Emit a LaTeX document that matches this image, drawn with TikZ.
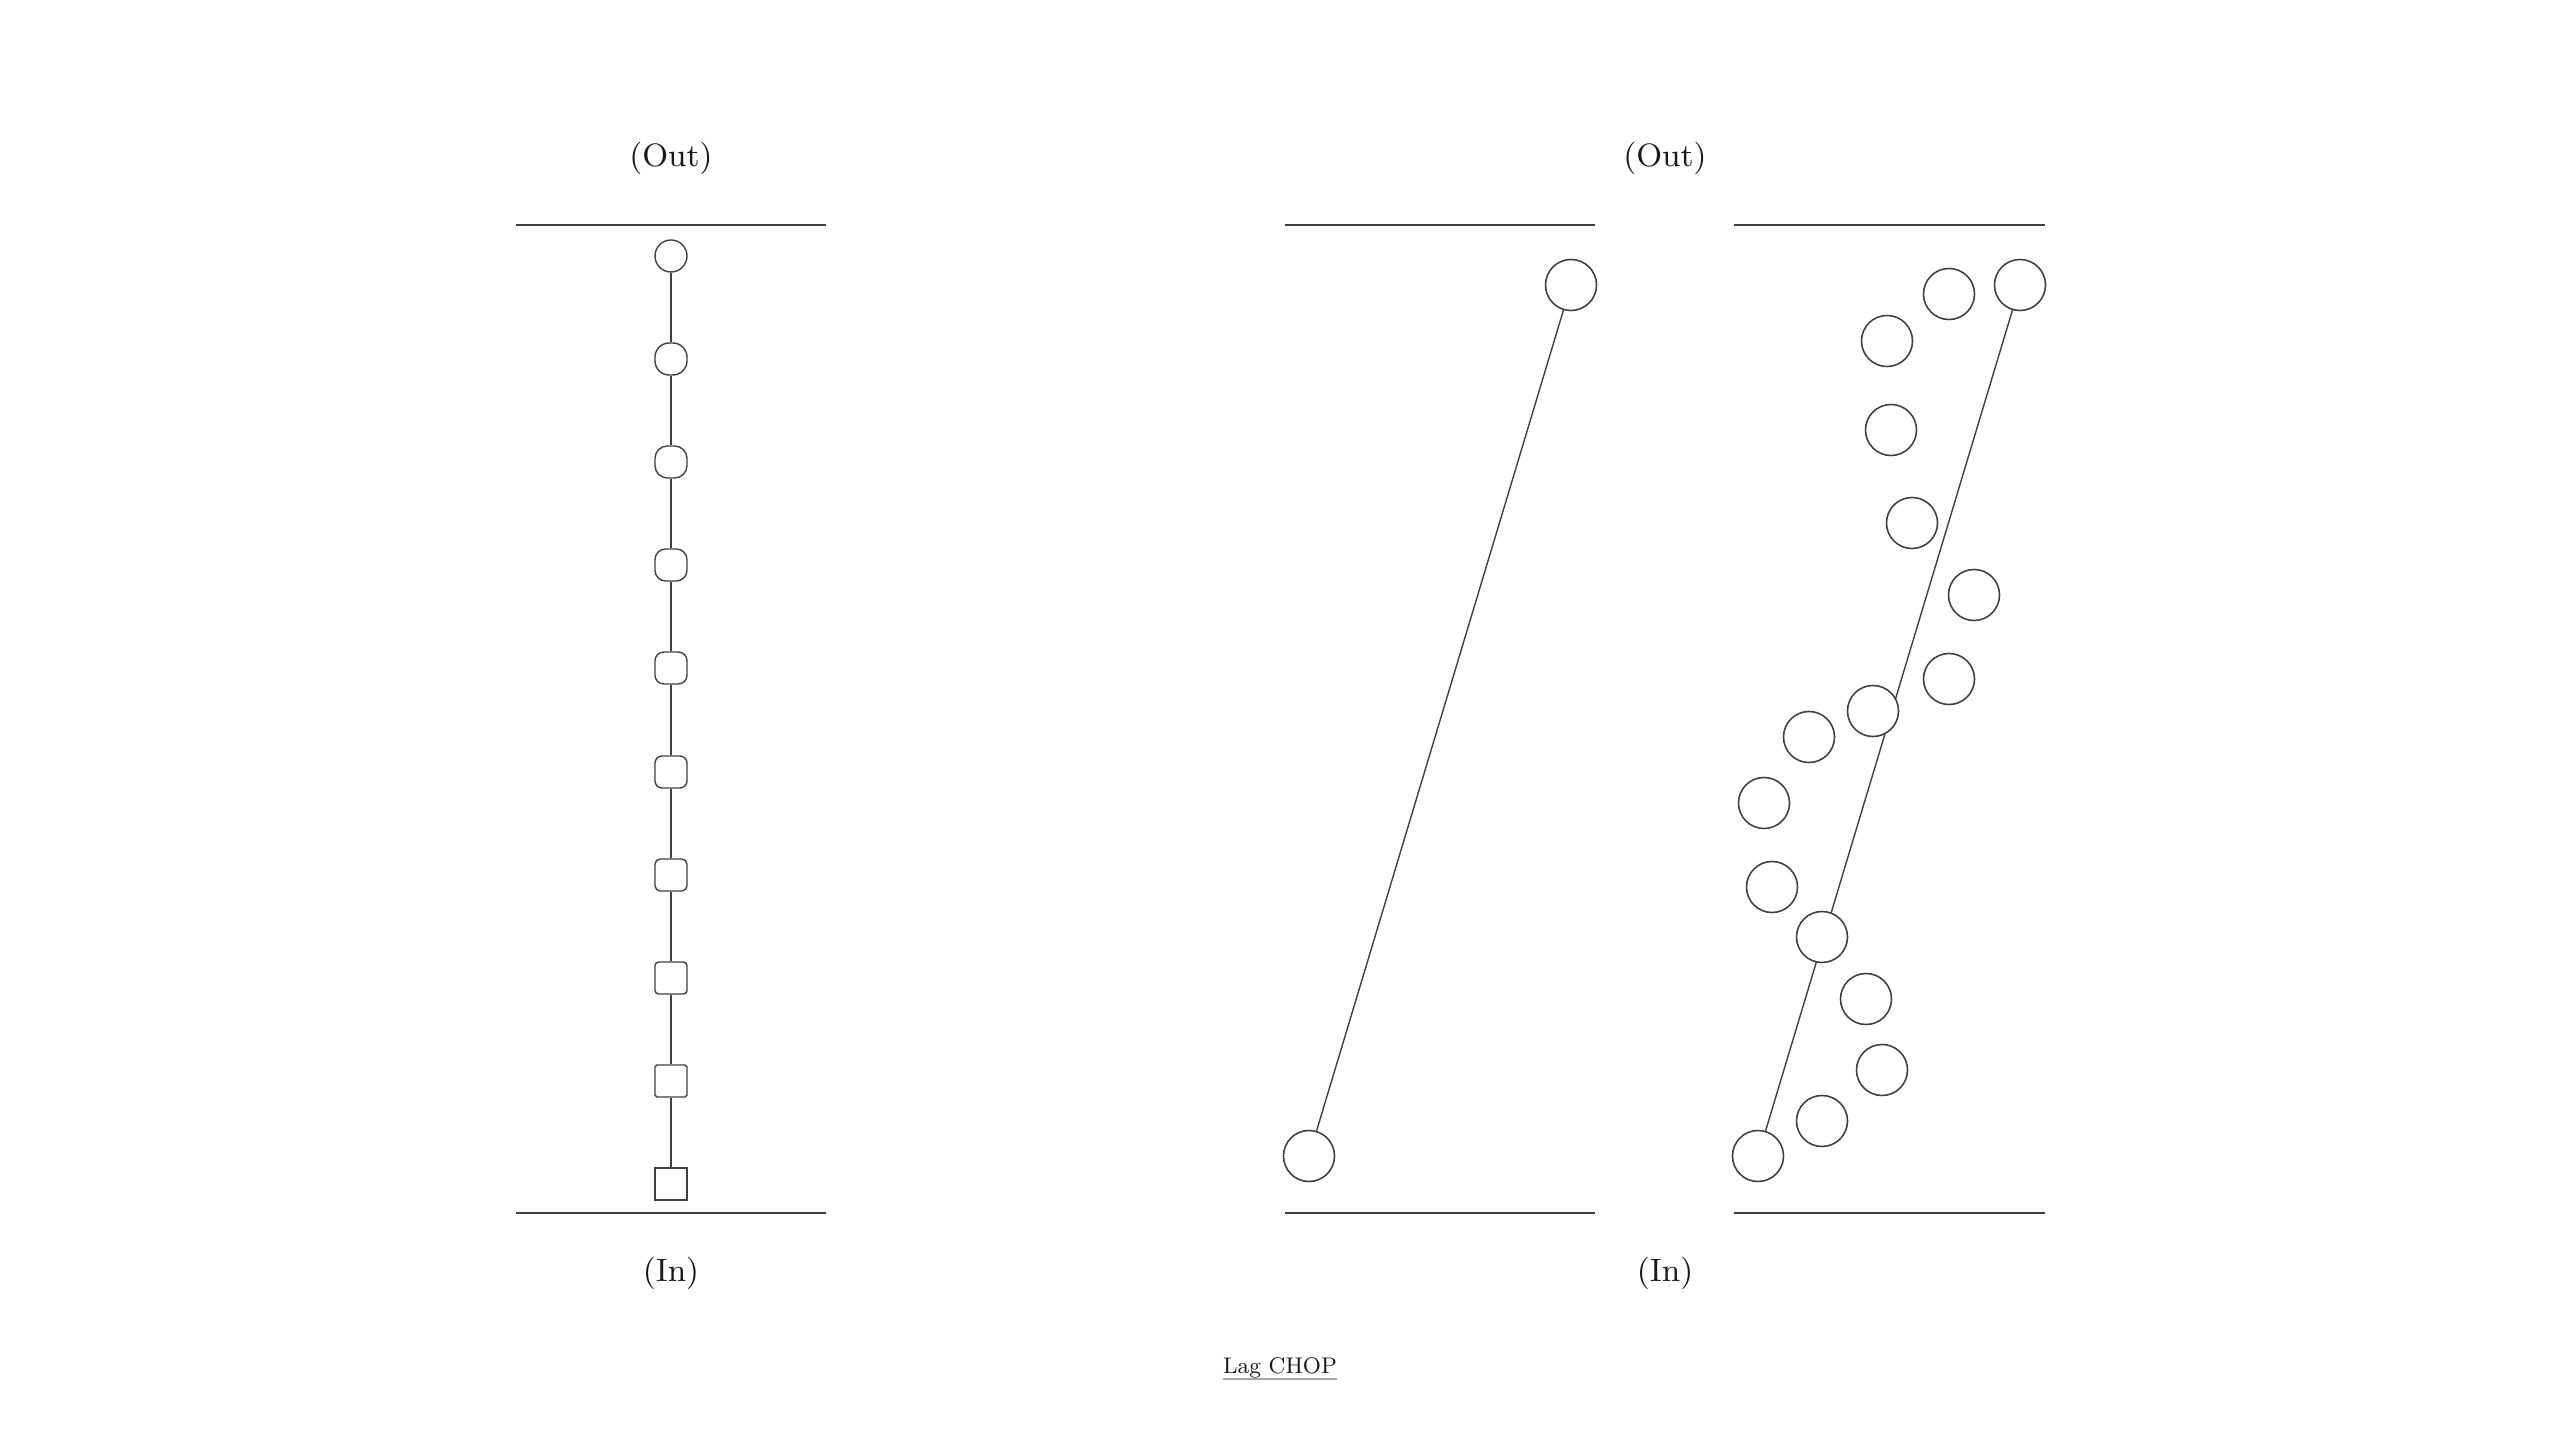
\documentclass[tikz,border=0pt]{standalone}
\begin{document}
\begin{tikzpicture}[x=0.01cm,y=-0.01cm]
	\tikzstyle{io}=[text=black!90,font=\fontsize{9.2}{11}\selectfont]
	\tikzstyle{bound}=[draw=black!75, line width=0.45pt]
	\tikzstyle{sample}=[rectangle,draw=black!75,fill=white,line width=0.4pt,minimum size=3.2mm,inner sep=0pt]
	\tikzstyle{point}=[circle,draw=black!75,fill=white,line width=0.45pt,minimum size=5.1mm,inner sep=0pt]
	\tikzstyle{edge}=[draw=black!75, line width=0.4pt]

	\useasboundingbox (0,0) rectangle (2560,1440);

	% left: input samples
	\begin{scope}
		\node [io] (outA) at (671,158) {(Out)};
		\node [io] (inA) at (671,1273) {(In)};
		\coordinate (topA1) at (516,225);
		\coordinate (topA2) at (826,225);
		\coordinate (botA1) at (516,1213);
		\coordinate (botA2) at (826,1213);
		\path[bound] (topA1) -- (topA2);
		\path[bound] (botA1) -- (botA2);

		\node [sample,circle] (l0) at (671,256) {};
		\node [sample,rounded corners=1.42mm] (l1) at (671,359) {};
		\node [sample,rounded corners=1.24mm] (l2) at (671,462) {};
		\node [sample,rounded corners=1.07mm] (l3) at (671,565) {};
		\node [sample,rounded corners=0.89mm] (l4) at (671,668) {};
		\node [sample,rounded corners=0.71mm] (l5) at (671,772) {};
		\node [sample,rounded corners=0.53mm] (l6) at (671,875) {};
		\node [sample,rounded corners=0.36mm] (l7) at (671,978) {};
		\node [sample,rounded corners=0.18mm] (l8) at (671,1081) {};
		\node [sample] (l9) at (671,1184) {};

		\path[edge] (l0) edge (l1);
		\path[edge] (l1) edge (l2);
		\path[edge] (l2) edge (l3);
		\path[edge] (l3) edge (l4);
		\path[edge] (l4) edge (l5);
		\path[edge] (l5) edge (l6);
		\path[edge] (l6) edge (l7);
		\path[edge] (l7) edge (l8);
		\path[edge] (l8) edge (l9);
	\end{scope}

	% right: lagged output
	\begin{scope}
		\node [io] (outB) at (1665,158) {(Out)};
		\node [io] (inB) at (1665,1273) {(In)};
		\coordinate (topB1) at (1285,225);
		\coordinate (topB2) at (1595,225);
		\coordinate (botB1) at (1285,1213);
		\coordinate (botB2) at (1595,1213);
		\coordinate (topC1) at (1734,225);
		\coordinate (topC2) at (2045,225);
		\coordinate (botC1) at (1734,1213);
		\coordinate (botC2) at (2045,1213);
		\path[bound] (topB1) -- (topB2);
		\path[bound] (botB1) -- (botB2);
		\path[bound] (topC1) -- (topC2);
		\path[bound] (botC1) -- (botC2);

		\node [point] (m0) at (1309,1156) {};
		\node [point] (m1) at (1571,285) {};
		\path[edge] (m0) edge (m1);

		\node [point] (r0) at (1758,1156) {};
		\node [point] (r1) at (2020,285) {};
		\path[edge] (r0) edge (r1);

		\node [point] (r2) at (1949,294) {};
		\node [point] (r3) at (1887,341) {};
		\node [point] (r4) at (1891,430) {};
		\node [point] (r5) at (1912,523) {};
		\node [point] (r6) at (1974,595) {};
		\node [point] (r7) at (1949,679) {};
		\node [point] (r8) at (1873,711) {};
		\node [point] (r9) at (1809,737) {};
		\node [point] (r10) at (1764,803) {};
		\node [point] (r11) at (1772,887) {};
		\node [point] (r12) at (1822,937) {};
		\node [point] (r13) at (1866,999) {};
		\node [point] (r14) at (1882,1070) {};
		\node [point] (r15) at (1822,1121) {};
	\end{scope}

	\node [text=black!90,font=\fontsize{9.2}{11}\selectfont,inner sep=0pt,scale=0.7,transform shape] (cap) at (1280,1368) {Lag CHOP};
	\path[draw=black!35,line width=0.55pt] ([yshift=-0.5mm]cap.base west) -- ([yshift=-0.5mm]cap.base east);
\end{tikzpicture}
\end{document}
